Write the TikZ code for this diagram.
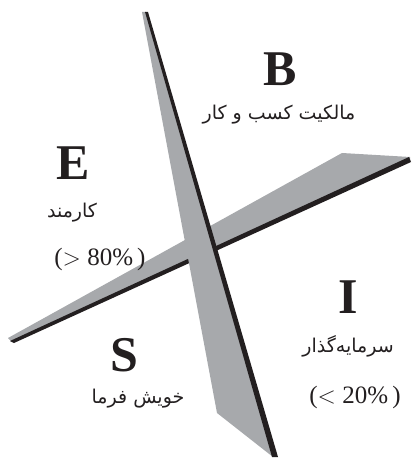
\documentclass[tikz,border=0pt]{standalone}
\usepackage{fontspec}
\setmainfont{Liberation Serif}
\newfontfamily\persianfont[Script=Arabic]{DejaVu Sans}
\TeXXeTstate=1
\usetikzlibrary{positioning}
\definecolor{bladegray}{HTML}{A7A9AC}
\definecolor{bladeedge}{HTML}{231F20}

\begin{document}
\begin{tikzpicture}[
  x=0.5pt, y=-0.5pt,
  every node/.style={inner sep=0pt},
  letter/.style={font=\fontsize{25}{25}\selectfont\bfseries, text=bladeedge},
  role/.style={font=\persianfont\fontsize{9.5}{10}\selectfont, text=bladeedge},
  share/.style={font=\fontsize{12.5}{13}\selectfont, text=bladeedge}
]
\useasboundingbox (0,0) rectangle (412,459);

% horizontal blade
\fill[bladegray] (8,338) -- (342,153) -- (410,157) -- (410,161) -- (11,341) -- cycle;
\fill[bladeedge] (10,341) -- (409,157) -- (411,162) -- (14,343) -- cycle;
% vertical blade, lies on top
\fill[bladegray] (142,12) -- (217,413) -- (273,457) -- (146,12) -- cycle;
\fill[bladeedge] (145,12) -- (148,12) -- (278,457) -- (272,457) -- cycle;

% B: top right
\node[letter] (B) at (280,69) {B};
\node[role] (Bname) at (279,115) {\beginR مالکیت کسب و کار\endR};
% E: top left
\node[letter] (E) at (73,163) {E};
\node[role] (Ename) at (72,213) {\beginR کارمند\endR};
\node[share] (Eshare) at (100,259) {($>$ 80\%\,)};
% I: bottom right
\node[letter] (I) at (348,297) {I};
\node[role] (Iname) at (348,346) {\beginR سرمایه‌گذار\endR};
\node[share] (Ishare) at (355,397) {($<$ 20\%\,)};
% S: bottom left
\node[letter] (S) at (124,355) {S};
\node[role] (Sname) at (138,399) {\beginR خویش فرما\endR};
\end{tikzpicture}
\end{document}
